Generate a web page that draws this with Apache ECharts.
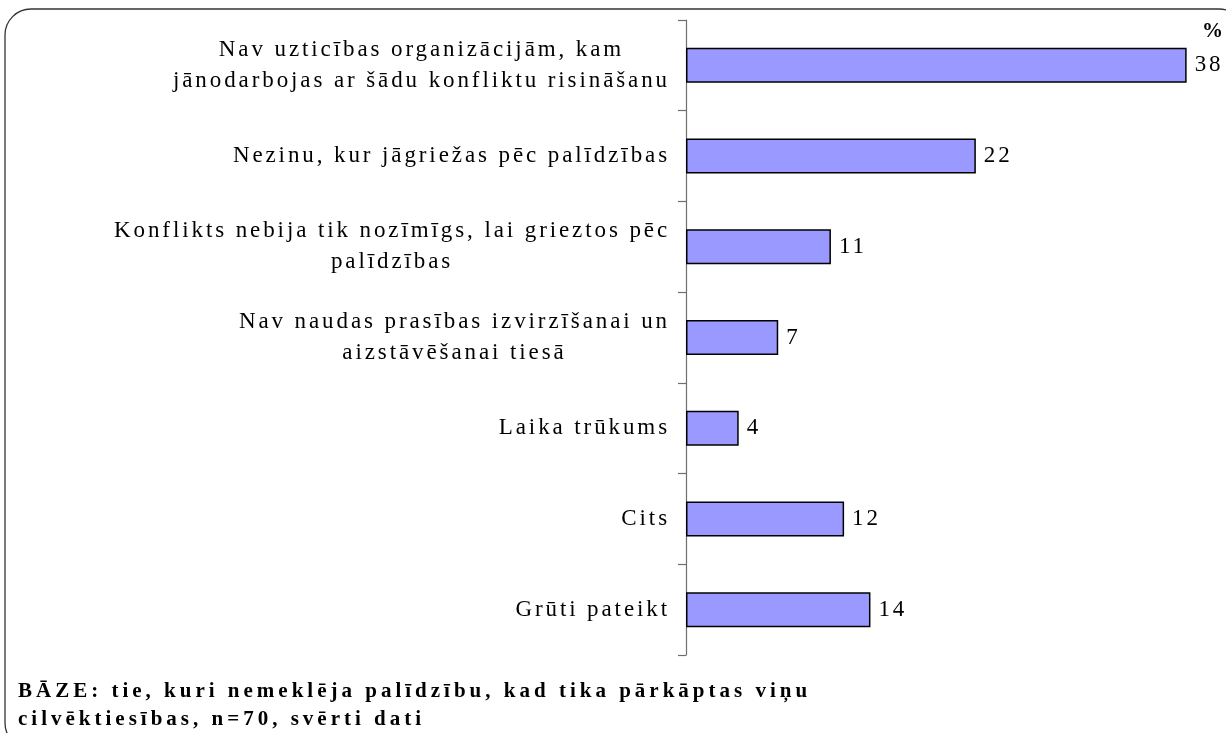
<!DOCTYPE html>
<html>
<head>
<meta charset="utf-8">
<script src="https://cdn.jsdelivr.net/npm/echarts@6/dist/echarts.min.js"></script>
<style>
  html, body { margin: 0; padding: 0; background: #fff; }
  #chart { width: 1226px; height: 733px; }
</style>
</head>
<body>
<div id="chart"></div>
<script>
// Reasons for not seeking help (%)
const categories = [
  'Nav uzticības organizācijām, kam\njānodarbojas ar šādu konfliktu risināšanu',
  'Nezinu, kur jāgriežas pēc palīdzības',
  'Konflikts nebija tik nozīmīgs, lai grieztos pēc\npalīdzības',
  'Nav naudas prasības izvirzīšanai un\naizstāvēšanai tiesā',
  'Laika trūkums',
  'Cits',
  'Grūti pateikt'
];
const values = [38, 22, 11, 7, 4, 12, 14];
const unitLabel = '%';
const baseNote = 'BĀZE: tie, kuri nemeklēja palīdzību, kad tika pārkāptas viņu\ncilvēktiesības, n=70, svērti dati';

// Wide, loosely tracked serif type: add letter spacing to every 2D context
// whenever a font is set (measurement and drawing both go through this).
(function () {
  const proto = CanvasRenderingContext2D.prototype;
  const desc = Object.getOwnPropertyDescriptor(proto, 'font');
  if (!desc || !('letterSpacing' in proto)) return;
  Object.defineProperty(proto, 'font', {
    configurable: true,
    get: function () { return desc.get.call(this); },
    set: function (v) {
      desc.set.call(this, v);
      this.letterSpacing = /bold/.test(v) ? '4px' : '2.9px';
    }
  });
})();

const serif = 'Liberation Serif, Times New Roman, serif';

const chart = echarts.init(document.getElementById('chart'), null, { renderer: 'canvas' });

chart.setOption({
  animation: false,
  backgroundColor: '#ffffff',
  grid: { left: 686, right: 13, top: 20, bottom: 78, containLabel: false },
  xAxis: {
    type: 'value',
    min: 0,
    max: 40,
    show: false
  },
  yAxis: {
    type: 'category',
    data: categories,
    inverse: true,
    axisLine: { show: true, lineStyle: { color: '#6e6e6e', width: 1.2 } },
    axisTick: { show: true, length: 8, lineStyle: { color: '#6e6e6e', width: 1.2 } },
    splitLine: { show: false },
    axisLabel: {
      margin: 16,
      align: 'right',
      color: '#000',
      fontFamily: serif,
      fontSize: 23,
      lineHeight: 31,
      formatter: function (v) {
        return v.split('\n').map(function (l) { return '{c|' + l + '}'; }).join('\n');
      },
      rich: {
        c: { align: 'center', fontFamily: serif, fontSize: 23, lineHeight: 31, color: '#000' }
      }
    }
  },
  series: [{
    type: 'bar',
    data: values,
    barWidth: 35,
    itemStyle: { color: '#9999ff', borderColor: '#000', borderWidth: 1.5 },
    label: {
      show: true,
      position: 'right',
      distance: 8,
      color: '#000',
      fontFamily: serif,
      fontSize: 23
    }
  }],
  graphic: [
    {
      type: 'rect',
      shape: { x: 5, y: 9, width: 1240, height: 740, r: 26 },
      style: { fill: 'none', stroke: '#333', lineWidth: 1.3 },
      silent: true,
      z: -1
    },
    {
      type: 'text',
      left: 1202,
      top: 19,
      style: { text: unitLabel, font: 'bold 21px ' + serif, fill: '#000' }
    },
    {
      type: 'text',
      left: 18,
      top: 678,
      style: { text: baseNote, font: 'bold 21px ' + serif, lineHeight: 28, fill: '#000' }
    }
  ]
});
</script>
</body>
</html>
